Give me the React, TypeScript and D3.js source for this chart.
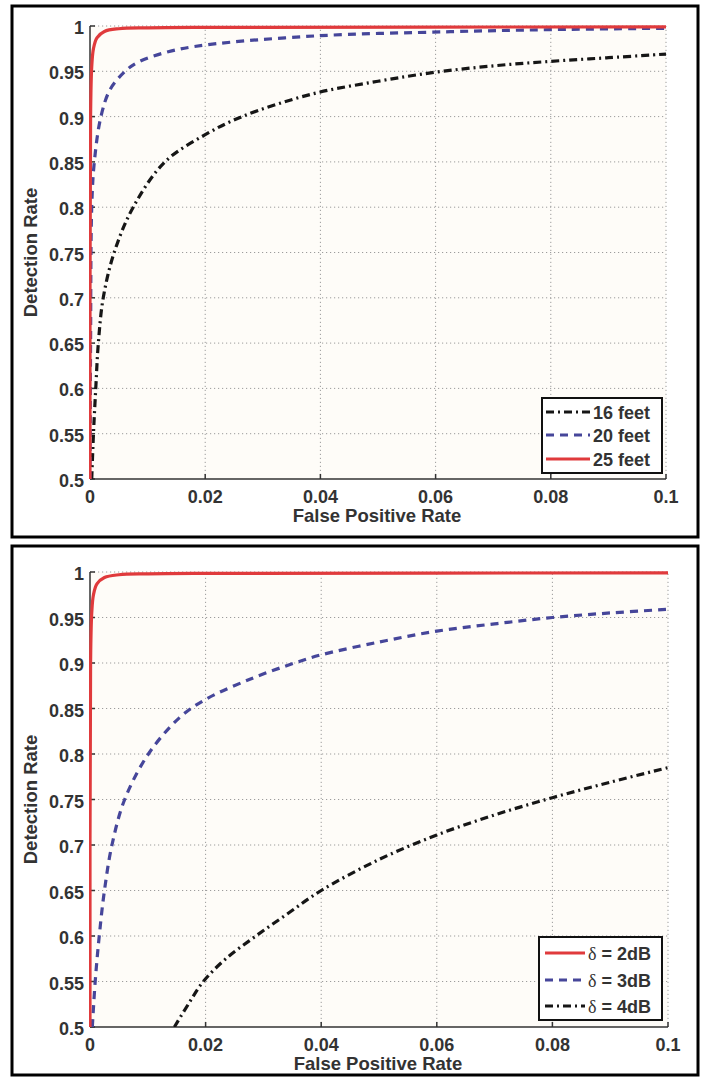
import React from "react";
import * as d3 from "d3";

// ---------- data ----------
const xTicks = [0, 0.02, 0.04, 0.06, 0.08, 0.1];
const yTicks = [0.5, 0.55, 0.6, 0.65, 0.7, 0.75, 0.8, 0.85, 0.9, 0.95, 1];
const xTickLabels = ["0", "0.02", "0.04", "0.06", "0.08", "0.1"];
const yTickLabels = ["0.5", "0.55", "0.6", "0.65", "0.7", "0.75", "0.8", "0.85", "0.9", "0.95", "1"];

// Top panel: distances
const feet16X = [0.0003, 0.0006, 0.001, 0.00145, 0.0023, 0.0042, 0.0075, 0.013, 0.02, 0.0264, 0.0386, 0.05, 0.06, 0.07, 0.08, 0.09, 0.1];
const feet16Y = [0.5, 0.55, 0.6, 0.65, 0.7, 0.75, 0.8, 0.85, 0.88, 0.9, 0.925, 0.939, 0.949, 0.956, 0.961, 0.965, 0.969];
const feet20X = [0.0, 0.0001, 0.0003, 0.00075, 0.0019, 0.0035, 0.0061, 0.0083, 0.0136, 0.02, 0.039, 0.0626, 0.08, 0.1];
const feet20Y = [0.5, 0.65, 0.8, 0.85, 0.9, 0.93, 0.95, 0.96, 0.9716, 0.979, 0.989, 0.9937, 0.996, 0.9975];
const feet25X = [0, 0.0001, 0.0003, 0.0006, 0.0012, 0.0025, 0.005, 0.01, 0.02, 0.1];
const feet25Y = [0.5, 0.9, 0.955, 0.975, 0.987, 0.994, 0.997, 0.998, 0.9985, 0.999];

// Bottom panel: delta
const db2X = [0, 0.0001, 0.0003, 0.0006, 0.0012, 0.0025, 0.005, 0.01, 0.02, 0.1];
const db2Y = [0.5, 0.9, 0.955, 0.975, 0.987, 0.994, 0.997, 0.998, 0.9985, 0.999];
const db3X = [0.0004, 0.0009, 0.0016, 0.0025, 0.0038, 0.006, 0.0101, 0.0155, 0.02, 0.028, 0.0354, 0.04, 0.05, 0.06, 0.07, 0.08, 0.09, 0.1];
const db3Y = [0.5, 0.55, 0.6, 0.65, 0.7, 0.75, 0.8, 0.84, 0.86, 0.883, 0.9, 0.909, 0.923, 0.935, 0.943, 0.95, 0.955, 0.959];
const db4X = [0.0146, 0.017, 0.0196, 0.0235, 0.0287, 0.0343, 0.04, 0.05, 0.06, 0.07, 0.08, 0.09, 0.1];
const db4Y = [0.5, 0.525, 0.55, 0.575, 0.6, 0.625, 0.65, 0.684, 0.711, 0.733, 0.752, 0.769, 0.785];

// ---------- styles ----------
const RED = "#e03a3c";
const BLUE = "#46469a";
const BLACK = "#161616";
const STYLE = {
  red: { stroke: RED, dash: "none" },
  blue: { stroke: BLUE, dash: "8,6" },
  black: { stroke: BLACK, dash: "8,4,2,4" },
};

const SANS = "'Liberation Sans', Arial, Helvetica, sans-serif";
const SERIF = "'Liberation Serif', 'DejaVu Serif', serif";
const FS = 18;

type Series = { xs: number[]; ys: number[]; style: { stroke: string; dash: string }; label: string; delta?: boolean };

const panels = [
  {
    frame: { x: 12, y: 6, w: 686, h: 531 },
    plot: { x0: 90, x1: 666, y0: 479, y1: 26 },
    legend: { x: 542, y: 398, w: 120, h: 75, rows: [412, 435, 459], sx0: 546, sx1: 590, tx: 593 },
    draw: [
      { xs: feet16X, ys: feet16Y, style: STYLE.black, label: "16 feet" },
      { xs: feet20X, ys: feet20Y, style: STYLE.blue, label: "20 feet" },
      { xs: feet25X, ys: feet25Y, style: STYLE.red, label: "25 feet" },
    ] as Series[],
    legendOrder: [0, 1, 2],
  },
  {
    frame: { x: 12, y: 546, w: 686, h: 529 },
    plot: { x0: 90, x1: 668, y0: 1027, y1: 572 },
    legend: { x: 539, y: 937, w: 123, h: 83, rows: [953, 980, 1006], sx0: 545, sx1: 585, tx: 588 },
    draw: [
      { xs: db4X, ys: db4Y, style: STYLE.black, label: "4dB", delta: true },
      { xs: db3X, ys: db3Y, style: STYLE.blue, label: "3dB", delta: true },
      { xs: db2X, ys: db2Y, style: STYLE.red, label: "2dB", delta: true },
    ] as Series[],
    legendOrder: [2, 1, 0],
  },
];

function Panel({ p }: { p: (typeof panels)[number] }) {
  const x = d3.scaleLinear().domain([0, 0.1]).range([p.plot.x0, p.plot.x1]);
  const y = d3.scaleLinear().domain([0.5, 1]).range([p.plot.y0, p.plot.y1]);
  const line = d3
    .line<[number, number]>()
    .x((d) => x(d[0]))
    .y((d) => y(d[1]))
    .curve(d3.curveCatmullRom.alpha(0.5));
  const clipId = `clip-${p.plot.y0}`;
  const lg = p.legend;
  const midX = (p.plot.x0 + p.plot.x1) / 2;
  const midY = (p.plot.y0 + p.plot.y1) / 2;
  return (
    <g>
      <rect x={p.frame.x} y={p.frame.y} width={p.frame.w} height={p.frame.h} fill="#ffffff" stroke="#000" strokeWidth={3} />
      <rect x={p.plot.x0} y={p.plot.y1} width={p.plot.x1 - p.plot.x0} height={p.plot.y0 - p.plot.y1} fill="#fefcf8" />
      <clipPath id={clipId}>
        <rect x={p.plot.x0 - 1} y={p.plot.y1 - 4} width={p.plot.x1 - p.plot.x0 + 5} height={p.plot.y0 - p.plot.y1 + 4} />
      </clipPath>
      {/* grid */}
      {xTicks.slice(1).map((t) => (
        <line key={"gx" + t} x1={x(t)} x2={x(t)} y1={p.plot.y0} y2={p.plot.y1} stroke="#9c9c9c" strokeWidth={1} strokeDasharray="1.2,2.8" />
      ))}
      {yTicks.slice(1).map((t) => (
        <line key={"gy" + t} x1={p.plot.x0} x2={p.plot.x1} y1={y(t)} y2={y(t)} stroke="#9c9c9c" strokeWidth={1} strokeDasharray="1.2,2.8" />
      ))}
      {/* axes */}
      <line x1={p.plot.x0} x2={p.plot.x0} y1={p.plot.y0} y2={p.plot.y1} stroke="#333" strokeWidth={1.5} />
      <line x1={p.plot.x0} x2={p.plot.x1} y1={p.plot.y0} y2={p.plot.y0} stroke="#333" strokeWidth={1.5} />
      {xTicks.map((t) => (
        <line key={"tx" + t} x1={x(t)} x2={x(t)} y1={p.plot.y0} y2={p.plot.y0 - 5} stroke="#333" strokeWidth={1.5} />
      ))}
      {yTicks.map((t) => (
        <line key={"ty" + t} x1={p.plot.x0} x2={p.plot.x0 + 5} y1={y(t)} y2={y(t)} stroke="#333" strokeWidth={1.5} />
      ))}
      {/* tick labels */}
      {xTicks.map((t, i) => (
        <text key={"lx" + t} x={x(t)} y={p.plot.y0 + 24} textAnchor="middle" fontFamily={SANS} fontWeight="bold" fontSize={FS} fill="#333">
          {xTickLabels[i]}
        </text>
      ))}
      {yTicks.map((t, i) => (
        <text key={"ly" + t} x={p.plot.x0 - 6} y={y(t) + 8} textAnchor="end" fontFamily={SANS} fontWeight="bold" fontSize={FS} fill="#333">
          {yTickLabels[i]}
        </text>
      ))}
      <text x={midX - 1} y={p.plot.y0 + 43} textAnchor="middle" fontFamily={SANS} fontWeight="bold" fontSize={18.5} fill="#333">
        False Positive Rate
      </text>
      <text
        transform={`translate(37,${midY}) rotate(-90)`}
        textAnchor="middle"
        fontFamily={SANS}
        fontWeight="bold"
        fontSize={18.5}
        fill="#333"
      >
        Detection Rate
      </text>
      {/* curves */}
      <g clipPath={`url(#${clipId})`}>
        {p.draw.map((s, i) => (
          <path
            key={"s" + i}
            d={line(s.xs.map((v, j) => [v, s.ys[j]] as [number, number])) || ""}
            fill="none"
            stroke={s.style.stroke}
            strokeWidth={3.2}
            strokeDasharray={s.style.dash}
          />
        ))}
      </g>
      {/* legend */}
      <rect x={lg.x} y={lg.y} width={lg.w} height={lg.h} fill="#ffffff" stroke="#111" strokeWidth={2} />
      {p.legendOrder.map((si, r) => {
        const s = p.draw[si];
        const ry = lg.rows[r];
        return (
          <g key={"lg" + r}>
            <line x1={lg.sx0} x2={lg.sx1} y1={ry} y2={ry} stroke={s.style.stroke} strokeWidth={3} strokeDasharray={s.style.dash} />
            {s.delta ? (
              <text x={lg.tx} y={ry + 7} fontFamily={SANS} fontWeight="bold" fontSize={FS} fill="#333">
                <tspan fontFamily={SERIF} fontWeight="normal">δ</tspan>
                <tspan> = {s.label}</tspan>
              </text>
            ) : (
              <text x={lg.tx} y={ry + 7} fontFamily={SANS} fontWeight="bold" fontSize={FS} fill="#333">
                {s.label}
              </text>
            )}
          </g>
        );
      })}
    </g>
  );
}

export default function App() {
  return (
    <svg width={703} height={1079} style={{ position: "absolute", left: 0, top: 0, background: "#fff" }}>
      {panels.map((p, i) => (
        <Panel key={i} p={p} />
      ))}
    </svg>
  );
}
